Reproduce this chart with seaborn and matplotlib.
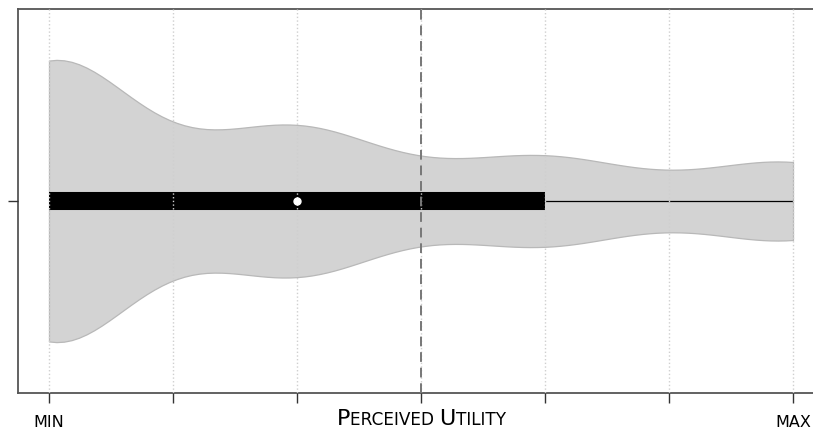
import numpy as np
import pandas as pd
import matplotlib
matplotlib.use("Agg")
import matplotlib.pyplot as plt
import seaborn as sns
from matplotlib.offsetbox import TextArea, HPacker, AnchoredOffsetbox

# survey answers on a 7-point scale (0 = MIN ... 6 = MAX), count per level
levels = [0, 1, 2, 3, 4, 5, 6]
counts = [82, 16, 39, 11, 23, 7, 22]
tick_labels = ["MIN", "", "", "", "", "", "MAX"]
neutral = 3

df = pd.DataFrame({"utility": np.repeat(levels, counts)})

sns.set_theme(style="ticks")
plt.rcParams["font.family"] = ["DejaVu Sans"]

fig = plt.figure(figsize=(8.13, 4.31), dpi=100)
ax = fig.add_axes([18 / 813, 37 / 431, 806 / 813, 384 / 431])

sns.violinplot(data=df, x="utility", ax=ax, cut=0, width=0.735, bw_adjust=0.86,
               color="#d3d3d3", linecolor="#b8b8b8", linewidth=0.9,
               inner="box",
               inner_kws=dict(box_width=13, whis_width=0.9, color="black", marker="o"))

# flat ends on the box, smaller median dot
for ln in ax.lines:
    ln.set_solid_capstyle("butt")
    if ln.get_marker() == "o":
        ln.set_markersize(5)
        ln.set_markeredgewidth(1)
        ln.set_zorder(4)

ax.axvline(neutral, color="#777777", ls=(0, (5, 3)), lw=1.4, zorder=3)

ax.set_xlim(-0.25, 6.25)
ax.set_ylim(0.5, -0.5)
ax.set_xticks(levels)
ax.set_xticklabels(tick_labels, fontsize=11.5, color="black")
ax.set_yticks([0])
ax.set_yticklabels([""])
ax.set_xlabel("")
ax.set_ylabel("")

ax.set_axisbelow(False)
ax.grid(axis="x", color="#cfcfcf", ls=":", lw=1)
ax.tick_params(axis="both", length=7, width=1, color="#333333", pad=8)
for s in ax.spines.values():
    s.set_color("#555555")
    s.set_linewidth(1.3)
sns.despine(ax=ax, top=False, right=False)

# small-caps style axis label
parts = [("P", 16), ("ERCEIVED ", 12.2), ("U", 16), ("TILITY", 12.2)]
box = HPacker(children=[TextArea(t, textprops=dict(fontsize=fs, color="black"))
                        for t, fs in parts],
              align="baseline", pad=0, sep=0)
anch = AnchoredOffsetbox(loc="upper center", child=box, pad=0, borderpad=0,
                         frameon=False, bbox_to_anchor=(0.5, -0.04),
                         bbox_transform=ax.transAxes)
ax.add_artist(anch)

fig.savefig("out.png", dpi=100)
